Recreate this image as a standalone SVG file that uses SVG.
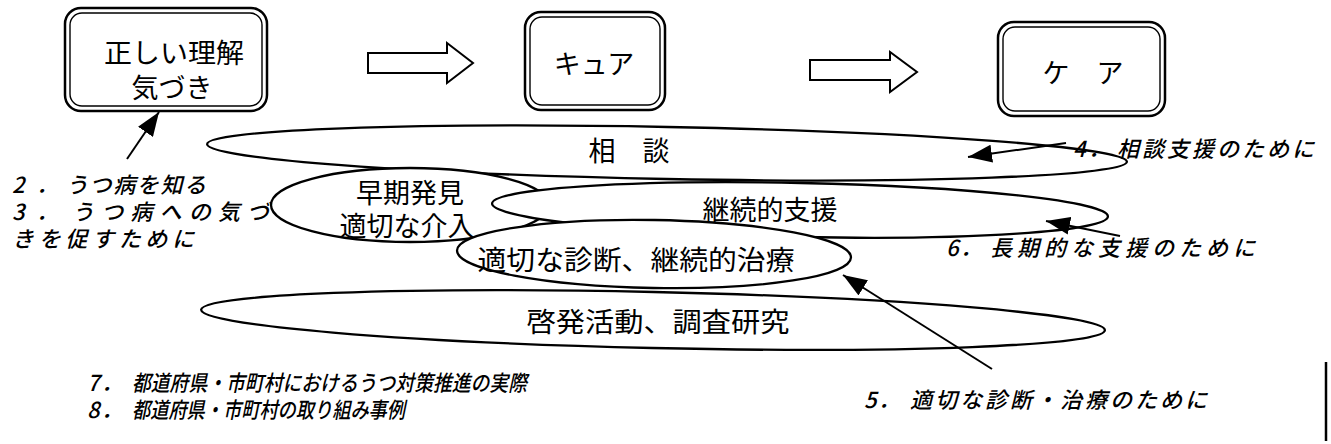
<svg xmlns="http://www.w3.org/2000/svg" width="1331" height="444" viewBox="0 0 1331 444">
<defs>
<style>
.bg{fill:#ffffff}
.outer{fill:#ffffff;stroke:#000;stroke-width:2.5}
.inner{fill:none;stroke:#000;stroke-width:1.4}
.ell{fill:#ffffff;stroke:#000;stroke-width:2.3}
.blk{fill:#ffffff;stroke:#000;stroke-width:2}
.t{font-family:"Noto Sans CJK JP","Noto Sans CJK SC",sans-serif;fill:#000;font-size:27px;text-anchor:middle}
.lbl{font-family:"Noto Sans CJK JP","Noto Sans CJK SC",sans-serif;fill:#000;font-size:22px;font-style:italic;font-weight:500}
.con{fill:none;stroke:#000;stroke-width:2}
</style>
<marker id="ah" viewBox="0 0 24 18" refX="24" refY="9" markerWidth="24" markerHeight="18" markerUnits="userSpaceOnUse" orient="auto">
<path d="M0,0 L24,9 L0,18 Z" fill="#000"/>
</marker>
</defs>
<rect class="bg" x="0" y="0" width="1331" height="444"/>

<g id="node-rikai">
<rect class="outer" x="65" y="8" width="202" height="103" rx="16"/>
<rect class="inner" x="70" y="13" width="192" height="93" rx="12"/>
<text class="t" x="174" y="63" font-size="29" textLength="140" lengthAdjust="spacingAndGlyphs">正しい理解</text>
<text class="t" x="172" y="98" font-size="29">気づき</text>
</g>

<g id="arrow-1">
<polygon class="blk" points="368,53 447,53 447,43 473,63 447,83 447,73 368,73"/>
</g>

<g id="node-cure">
<rect class="outer" x="525" y="12" width="140" height="98" rx="16"/>
<rect class="inner" x="530" y="17" width="130" height="88" rx="12"/>
<text class="t" x="594" y="74" font-size="26">キュア</text>
</g>

<g id="arrow-2">
<polygon class="blk" points="810,60 890,60 890,52 917,72 890,92 890,80 810,80"/>
</g>

<g id="node-care">
<rect class="outer" x="998" y="22" width="167" height="94" rx="16"/>
<rect class="inner" x="1003" y="27" width="157" height="84" rx="12"/>
<text class="t" x="1083" y="83" font-size="26">ケ　ア</text>
</g>

<g id="node-soudan">
<ellipse class="ell" cx="667" cy="153" rx="460" ry="26" transform="rotate(1.1 667 153)"/>
<text class="t" x="629" y="161" font-size="27">相　談</text>
</g>

<g id="node-souki">
<ellipse class="ell" cx="410" cy="205" rx="139" ry="37"/>
<text class="t" x="410" y="203" font-size="29">早期発見</text>
<text class="t" x="407" y="236" font-size="28">適切な介入</text>
</g>

<g id="node-keizoku">
<ellipse class="ell" cx="800" cy="210" rx="308" ry="27" transform="rotate(1.2 800 210)"/>
<text class="t" x="770" y="220" font-size="29">継続的支援</text>
</g>

<g id="node-shindan">
<ellipse class="ell" cx="654" cy="254" rx="197" ry="34" transform="rotate(1 654 254)"/>
<text class="t" x="636" y="270" font-size="28" textLength="317" lengthAdjust="spacingAndGlyphs">適切な診断、継続的治療</text>
</g>

<g id="node-keihatsu">
<ellipse class="ell" cx="653" cy="320" rx="452" ry="28" transform="rotate(1.3 653 320)"/>
<text class="t" x="658" y="332" font-size="28" textLength="263" lengthAdjust="spacingAndGlyphs">啓発活動、調査研究</text>
</g>

<g id="connectors">
<line class="con" x1="127" y1="159" x2="159" y2="112" marker-end="url(#ah)"/>
<line class="con" x1="1066" y1="143" x2="968" y2="157" marker-end="url(#ah)"/>
<line class="con" x1="1120" y1="236" x2="1046" y2="221" marker-end="url(#ah)"/>
<line class="con" x1="992" y1="369" x2="843" y2="275" marker-end="url(#ah)"/>
</g>

<g id="labels">
<text class="lbl" x="12" y="193" font-size="21">2<tspan x="36">．</tspan><tspan x="66" textLength="140">うつ病を知る</tspan></text>
<text class="lbl" x="12" y="220" font-size="21">3<tspan x="36">．</tspan><tspan x="72" textLength="197">うつ病への気づ</tspan></text>
<text class="lbl" x="12" y="247" font-size="21" textLength="182">きを促すために</text>
<text class="lbl" x="1073" y="157">4<tspan x="1088">．</tspan><tspan x="1117" textLength="197">相談支援のために</tspan></text>
<text class="lbl" x="946" y="256">6<tspan x="960">．</tspan><tspan x="990" textLength="265">長期的な支援のために</tspan></text>
<text class="lbl" x="864" y="408" font-size="23">5<tspan x="878">．</tspan><tspan x="910" textLength="297">適切な診断・治療のために</tspan></text>
<text class="lbl" x="87" y="391" font-size="19" font-weight="400">7<tspan x="101">．</tspan><tspan x="132" textLength="395" lengthAdjust="spacingAndGlyphs">都道府県・市町村におけるうつ対策推進の実際</tspan></text>
<text class="lbl" x="87" y="418" font-size="19" font-weight="400">8<tspan x="101">．</tspan><tspan x="132" textLength="273" lengthAdjust="spacingAndGlyphs">都道府県・市町村の取り組み事例</tspan></text>
</g>

<line x1="1326" y1="362" x2="1326" y2="441" stroke="#000" stroke-width="2.5"/>
</svg>
